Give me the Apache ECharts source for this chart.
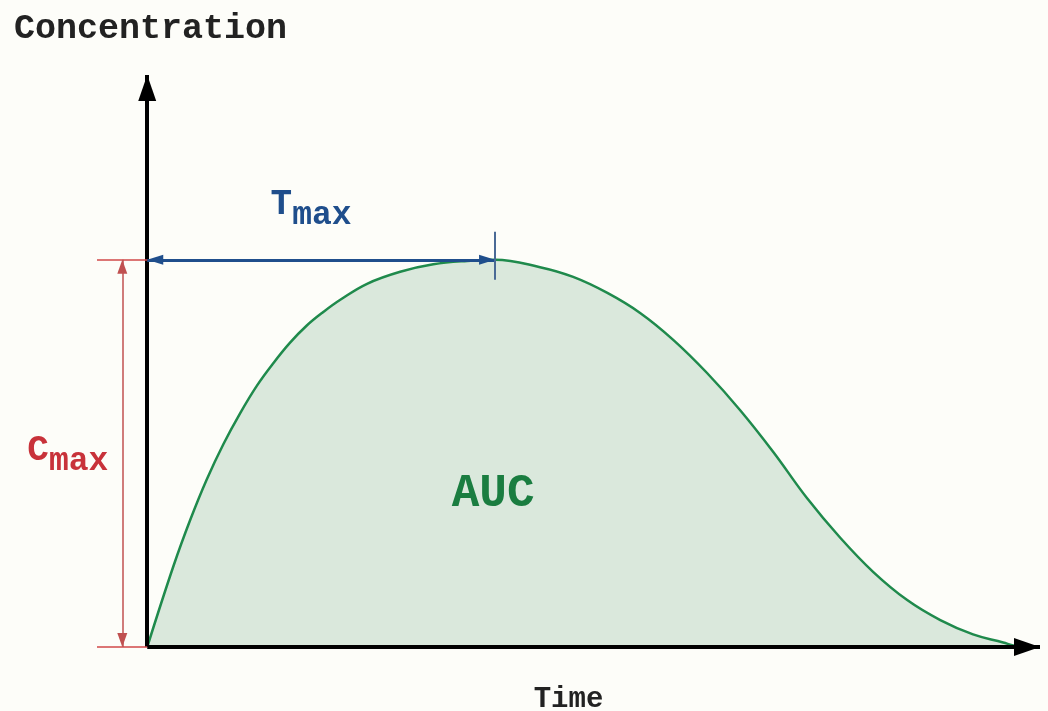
<!DOCTYPE html>
<html>
<head>
<meta charset="utf-8">
<script src="https://cdn.jsdelivr.net/npm/echarts@6/dist/echarts.min.js"></script>
<style>
  html, body {margin: 0; padding: 0; background: #fdfdf9;}
  #chart {width: 1048px; height: 711px;}
</style>
</head>
<body>
<div id="chart"></div>
<script>
// concentration-time curve
const timeH = [0, 0.71, 1.16, 1.60, 2.05, 2.50, 2.95, 3.40, 3.84, 4.29, 4.74, 5.19, 5.91, 6.80, 7.69, 8.60, 9.35,
  10.56, 11.45, 12.37, 13.25, 14.14, 15.05, 15.94, 16.83, 17.74, 18.63, 19.52, 20.43, 21.32, 22.20, 23.01, 23.25, 23.45];
const conc = [0, 14.25, 22.3, 29.3, 35.5, 40.9, 45.7, 49.7, 53.2, 56.2, 58.6, 60.7, 63.5, 65.6, 66.9, 67.5, 67.7,
  66.4, 64.7, 61.9, 58.4, 53.7, 47.9, 41.4, 34.1, 26.0, 19.1, 13.1, 8.2, 4.7, 2.2, 0.8, 0.3, 0];

const tmax = 9.35;
const cmax = 67.7;
const xRange = [-1.35, 24];
const yRange = [0, 100];
const tmaxTick = [64.2, 72.6];
const cmaxArrowX = -0.67;
const aucAt = [9.3, 26.6];

const font = "'Courier New', 'Liberation Mono', monospace";
const blue = '#1f4e8c';
const red = '#c8323a';
const green = '#1f8a4c';

const curve = timeH.map((t, i) => [t, conc[i]]);

const chart = echarts.init(document.getElementById('chart'));

const hiddenAxis = {
  axisLine: {show: false},
  axisTick: {show: false},
  axisLabel: {show: false},
  splitLine: {show: false},
};

// a group of straight guide lines drawn as markLines; arrow tips sit on the end points
function lines(name, data, symbol, symbolSize, lineStyle, z) {
  const len = Array.isArray(symbolSize) ? symbolSize[1] : symbolSize;
  return {
    name,
    type: 'line',
    data: [],
    z,
    silent: true,
    markLine: {
      silent: true,
      symbol,
      symbolSize,
      symbolOffset: [[0, len / 2], [0, len / 2]],
      label: {show: false},
      emphasis: {disabled: true},
      lineStyle,
      data,
    },
  };
}

chart.setOption({
  backgroundColor: '#fdfdf9',
  animation: false,
  title: {
    text: 'Concentration',
    left: 9,
    top: 7,
    textStyle: {fontFamily: font, fontWeight: 'bold', fontSize: 35, color: '#222'},
  },
  grid: {left: 97, right: 8, top: 75, bottom: 64, outerBoundsMode: 'none'},
  xAxis: {
    type: 'value',
    min: xRange[0],
    max: xRange[1],
    name: 'Time',
    nameLocation: 'middle',
    nameGap: 38,
    nameTextStyle: {fontFamily: font, fontWeight: 'bold', fontSize: 29, color: '#222'},
    ...hiddenAxis,
  },
  yAxis: {
    type: 'value',
    min: yRange[0],
    max: yRange[1],
    ...hiddenAxis,
  },
  series: [
    {
      name: 'AUC',
      type: 'line',
      data: curve,
      smooth: 0.4,
      showSymbol: false,
      symbol: 'none',
      z: 2,
      lineStyle: {color: green, width: 2.5},
      areaStyle: {color: '#dae8dc', opacity: 1},
    },
    lines('axes', [
      [{coord: [0, 0]}, {coord: [xRange[1], 0]}],
      [{coord: [0, 0]}, {coord: [0, yRange[1]]}],
    ], ['none', 'triangle'], [18, 26], {color: '#000', width: 4, type: 'solid'}, 10),
    lines('tmax', [
      [{coord: [0, cmax]}, {coord: [tmax, cmax]}],
    ], ['triangle', 'triangle'], [10, 16], {color: blue, width: 3, type: 'solid'}, 6),
    lines('tmaxTick', [
      [{coord: [tmax, tmaxTick[0]]}, {coord: [tmax, tmaxTick[1]]}],
    ], 'none', 0, {color: '#4a6a96', width: 2, type: 'solid'}, 6),
    lines('cmaxGuides', [
      [{coord: [xRange[0], cmax]}, {coord: [0, cmax]}],
      [{coord: [xRange[0], 0]}, {coord: [0, 0]}],
    ], 'none', 0, {color: '#d04848', width: 1.5, type: 'solid'}, 6),
    lines('cmax', [
      [{coord: [cmaxArrowX, cmax]}, {coord: [cmaxArrowX, 0]}],
    ], ['triangle', 'triangle'], [10, 14], {color: '#c05050', width: 1.5, type: 'solid'}, 6),
  ],
});

// text labels anchored to data positions
const toPx = p => chart.convertToPixel({gridIndex: 0}, p);
const tLab = toPx([tmax / 2, cmax]);
const cLab = toPx([cmaxArrowX, cmax / 2]);
const aLab = toPx(aucAt);

function subLabel(letter, color) {
  return {
    text: '{b|' + letter + '}{s|max}',
    fill: color,
    rich: {
      b: {fontFamily: font, fontWeight: 'bold', fontSize: 36, lineHeight: 36, padding: [0, 0, 9, 0], verticalAlign: 'bottom', fill: color},
      s: {fontFamily: font, fontWeight: 'bold', fontSize: 33, lineHeight: 33, verticalAlign: 'bottom', fill: color},
    },
  };
}

chart.setOption({
  graphic: [
    {type: 'text', z: 100, x: tLab[0] - 10, y: tLab[1] - 28, style: {...subLabel('T', blue), align: 'center', verticalAlign: 'bottom'}},
    {type: 'text', z: 100, x: cLab[0] - 14, y: cLab[1] + 25, style: {...subLabel('C', red), align: 'right', verticalAlign: 'bottom'}},
    {type: 'text', z: 100, x: aLab[0], y: aLab[1], style: {text: 'AUC', fill: '#1a7d40', font: 'bold 46px ' + font, align: 'center', verticalAlign: 'middle'}},
  ],
});
</script>
</body>
</html>
